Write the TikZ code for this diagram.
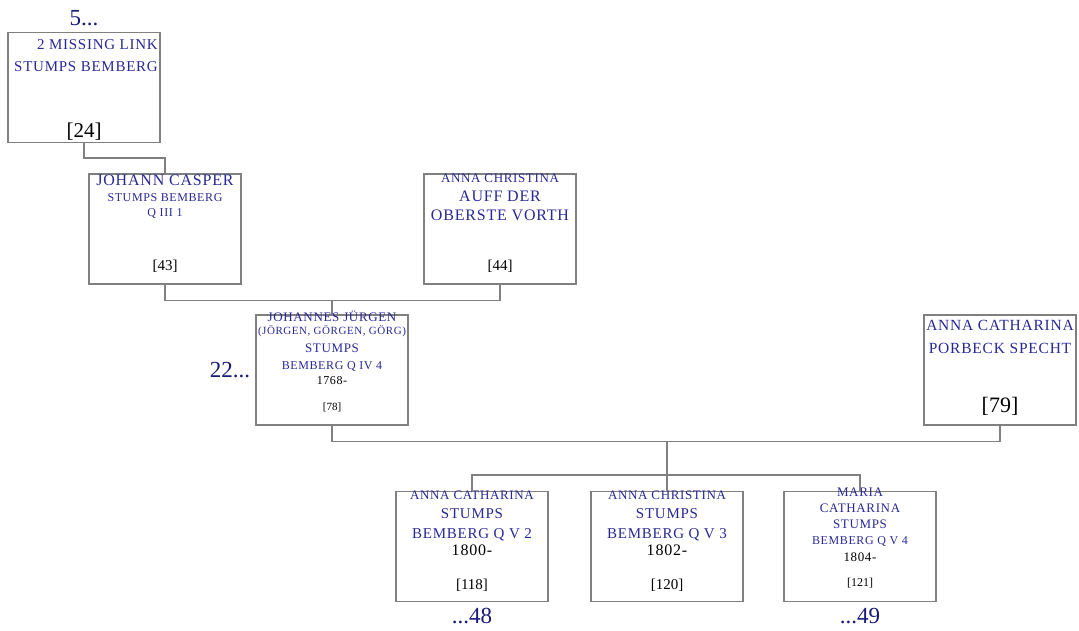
\documentclass[tikz,border=0pt]{standalone}
\usepackage{fontspec}
\setmainfont{Liberation Serif}
\newfontfamily\namefont[LetterSpace=5]{Liberation Serif}
\usetikzlibrary{calc}

\definecolor{namecol}{RGB}{40,40,150}
\definecolor{morecol}{RGB}{25,25,120}
\definecolor{linegray}{RGB}{128,128,128}
\newcommand{\fsz}[1]{\fontsize{#1}{#1}\selectfont}

\begin{document}
\begin{tikzpicture}[x=1pt, y=-1pt,
	person/.style={draw=linegray, line width=1.2pt, minimum width=152pt, minimum height=110pt, inner sep=0pt},
	pname/.style={anchor=north, align=center, text=namecol, inner sep=0pt,
		font={\namefont\fontsize{12}{0}\selectfont\lineskiplimit=-100pt\lineskip=0pt}},
	pid/.style={anchor=base, inner sep=0pt, text=black},
	more/.style={inner sep=0pt, text=morecol, font=\fsz{23}},
	famline/.style={draw=linegray, line width=1.2pt}
	]
	\useasboundingbox (0,0) rectangle (1079,631);
	
	% Personen
	\node[person] (p24) at (84,87.5) {};
	\node[person] (p43) at (165,229) {};
	\node[person] (p44) at (500,229) {};
	\node[person] (p78) at (332,370) {};
	\node[person] (p79) at (1000,370) {};
	\node[person] (p118) at (472,546.5) {};
	\node[person] (p120) at (667,546.5) {};
	\node[person] (p121) at (860,546.5) {};
	
	% Namen
	\node[pname, align=right] (n24) at ([xshift=2pt, yshift=-7pt]p24.north)
		{\fsz{15}2 MISSING LINK\\[22pt]\fsz{15}STUMPS BEMBERG};
	\node[pname] (n43) at ([yshift=-1pt]p43.north)
		{\fsz{16}JOHANN CASPER\\[16pt]\fsz{12}STUMPS BEMBERG\\[15pt]\fsz{12}Q III 1};
	\node[pname] (n44) at (p44.north)
		{\fsz{13}ANNA CHRISTINA\\[19pt]\fsz{16}AUFF DER\\[19pt]\fsz{16}OBERSTE VORTH};
	\node[pname] (n78) at ([yshift=4pt]p78.north)
		{\fsz{13}JOHANNES JÜRGEN\\[13pt]\fsz{11}(JÖRGEN, GÖRGEN, GÖRG)\\[18pt]\fsz{13}STUMPS\\[17pt]\fsz{12}BEMBERG Q IV 4\\[15pt]\fsz{12}\color{black}1768-};
	\node[pname] (n79) at ([yshift=-6pt]p79.north)
		{\fsz{15.5}ANNA CATHARINA\\[23pt]\fsz{15.5}PORBECK SPECHT};
	\node[pname] (n118) at ([yshift=0.5pt]p118.north)
		{\fsz{13}ANNA CATHARINA\\[19pt]\fsz{15}STUMPS\\[20pt]\fsz{15}BEMBERG Q V 2\\[17pt]\fsz{16}\color{black}1800-};
	\node[pname] (n120) at ([yshift=0.5pt]p120.north)
		{\fsz{13}ANNA CHRISTINA\\[19pt]\fsz{15}STUMPS\\[20pt]\fsz{15}BEMBERG Q V 3\\[17pt]\fsz{16}\color{black}1802-};
	\node[pname] (n121) at ([yshift=3.5pt]p121.north)
		{\fsz{13}MARIA\\[16pt]\fsz{13}CATHARINA\\[16pt]\fsz{13}STUMPS\\[16pt]\fsz{12}BEMBERG Q V 4\\[17pt]\fsz{13}\color{black}1804-};
	
	% Nummern
	\node[pid, font=\fsz{21}] (id24) at ([yshift=6pt]p24.south) {[24]};
	\node[pid, font=\fsz{15}] (id43) at ([yshift=14pt]p43.south) {[43]};
	\node[pid, font=\fsz{15}] (id44) at ([yshift=14pt]p44.south) {[44]};
	\node[pid, font=\fsz{11}] (id78) at ([yshift=15pt]p78.south) {[78]};
	\node[pid, font=\fsz{22}] (id79) at ([yshift=13pt]p79.south) {[79]};
	\node[pid, font=\fsz{15}] (id118) at ([yshift=13pt]p118.south) {[118]};
	\node[pid, font=\fsz{15}] (id120) at ([yshift=13pt]p120.south) {[120]};
	\node[pid, font=\fsz{12}] (id121) at ([yshift=16pt]p121.south) {[121]};
	
	% Verweise
	\node[more] (m24) at ([yshift=14pt]p24.north) {5...};
	\node[more, anchor=east] (m78) at ([xshift=-5pt]p78.west) {22...};
	\node[more] (m118) at ([yshift=-14pt]p118.south) {...48};
	\node[more] (m121) at ([yshift=-14pt]p121.south) {...49};
	
	% Familien
	\draw[famline] (p24.south) -- ++(0,15) -| (p43.north);
	\coordinate (u43) at ([yshift=-16pt]p43.south);
	\draw[famline] (p43.south) -- (u43) -| (p44.south);
	\draw[famline] (p78.north) -- (p78.north |- u43);
	\coordinate (u78) at ([yshift=-16pt]p78.south);
	\draw[famline] (p78.south) -- (u78) -| (p79.south);
	\coordinate (k78) at ([yshift=16pt]p120.north);
	\draw[famline] (p120.north |- u78) -- (p120.north);
	\draw[famline] (p118.north) |- (k78) -| (p121.north);
	
\end{tikzpicture}
\end{document}
